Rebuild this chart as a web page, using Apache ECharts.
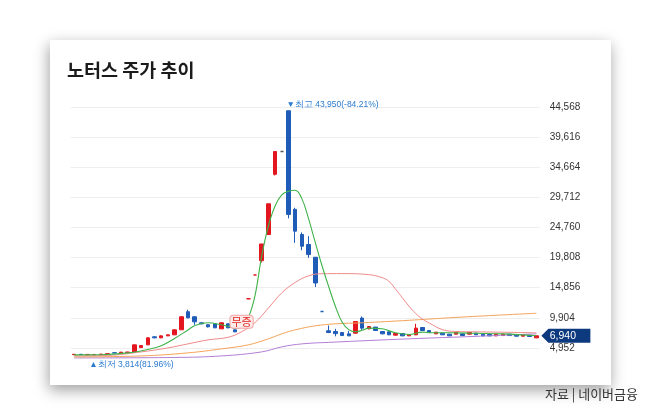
<!DOCTYPE html>
<html>
<head>
<meta charset="utf-8">
<script src="https://cdn.jsdelivr.net/npm/echarts@6/dist/echarts.min.js"></script>
<style>
html,body{margin:0;padding:0;background:#fff;}
#c{width:650px;height:414px;}
</style>
</head>
<body>
<div id="c"></div>
<script>
// ---------- data ----------
const days = ['1','2','3','4','5','6','7','8','9','10','11','12','13','14','15','16','17','18','19','20',
'21','22','23','24','25','26','27','28','29','30','31','32','33','34','35','36','37','38','39','40',
'41','42','43','44','45','46','47','48','49','50','51','52','53','54','55','56','57','58','59','60',
'61','62','63','64','65','66','67','68','69','70'];

const candleOpen = [3830,3900,3840,3830,3850,3900,4150,4150,4200,4290,5000,5450,6770,6600,6930,7100,7920,10900,10070,9080,
8750,8910,8090,8910,7920,'-',13040,16950,19300,23600,33500,37245,43950,27730,23600,21950,19860,10940,7760,7640,
7480,7260,7380,9850,8090,8370,7640,7590,7050,7310,6930,7100,8300,7800,7260,7380,7210,7210,7260,7210,
7380,7210,7150,6930,6980,7210,7100,6880,7050,6600];
const candleClose = [3900,3850,3880,3870,3930,4000,4100,4250,4270,5450,5330,6600,6600,6930,7100,7920,10070,9900,9240,8910,
8420,8250,9080,8250,7590,'-',13040,16950,22040,28650,37245,37245,26900,24150,21670,20300,15630,10940,7480,7300,
6980,6930,9290,8200,8470,7810,7260,7100,7310,6930,7150,8200,7810,7450,7540,7100,6930,7480,6980,7480,
7100,6930,6930,7210,7210,6980,6880,7100,6820,6940];
const candleLow = [3825,3830,3825,3814,3840,3880,4070,4120,4170,4250,4950,5400,6550,6550,6900,7050,7900,9800,8750,8850,
8300,8200,8050,8200,7550,'-',13040,16950,19000,23500,33300,37245,26250,22230,21010,19760,14970,10940,7380,6850,
6950,6900,7300,7920,8000,7780,7200,7050,7000,6900,6900,7050,7780,7400,7230,7070,6900,7180,6950,7180,
7070,6900,6900,6900,6950,6950,6850,6850,6790,6570];
const candleHigh = [3930,3920,3900,3890,3950,4030,4180,4280,4300,5500,5400,6700,6900,7000,7150,8000,10150,11230,10150,9150,
8850,8950,9150,8950,7950,'-',13040,16950,22040,28650,37245,37245,43950,28000,23940,23320,19860,10940,8630,8090,
7500,7760,9350,10120,8500,8400,7700,7650,7350,7350,7200,8910,8350,7850,7570,7400,7250,7500,7290,7510,
7400,7240,7180,7240,7240,7240,7130,7130,7080,6970];

// moving averages: [day index, value]
const ma5 = [[0,3800],[4,3830],[8,4130],[11,4700],[13,5300],[15,6500],[17,7900],[18,8600],[20,9080],[22,8750],[23,8500],
[24,8200],[25,8500],[26,9900],[27,13500],[28,20000],[29,25000],[30,28300],[31,30100],[32,30700],[33,30870],[34,29500],
[35,26200],[36,22300],[37,18500],[38,15050],[39,11800],[40,9200],[41,7950],[42,7600],[43,7850],[44,8200],[46,8090],
[48,7430],[50,7150],[52,7550],[54,7430],[56,7430],[60,7350],[64,7260],[69,6950]];
const ma20 = [[0,3630],[5,3710],[10,4290],[14,4950],[17,5610],[20,6270],[23,6700],[25,7600],[27,9100],[29,11500],
[31,14000],[33,15700],[35,16800],[37,17150],[40,17170],[44,17000],[46,16500],[47,15900],[48,14600],[49,13200],
[50,11800],[51,10600],[52,9700],[53,9050],[55,7950],[57,7650],[60,7590],[65,7510],[69,7430]];
const ma60 = [[0,3470],[10,3630],[17,4130],[22,4790],[26,5450],[29,6440],[31,7260],[33,7920],[36,8580],[39,8910],
[43,9080],[50,9490],[56,9900],[63,10320],[69,10650]];
const ma120 = [[0,3300],[15,3380],[22,3630],[28,4290],[31,5120],[34,5610],[38,5860],[50,6440],[60,6850],[69,7260]];

const yTicks = [0,4952,9904,14856,19808,24760,29712,34664,39616,44568];
const eventIndex = 25, eventValue = 9240, eventText = '무증';

// ---------- styles ----------
const RED = '#e3161f', BLUE = '#1f5cb8', GRAY = '#555555', NAVY = '#0d3a7e', LBLUE = '#2a7bd0';
const NARROW = "'Liberation Sans Narrow','Liberation Sans',Arial,sans-serif";

const candles = [];
let prevClose = null;
for (let i = 0; i < days.length; i++) {
  const o = candleOpen[i], c = candleClose[i], l = candleLow[i], h = candleHigh[i];
  if (o === '-') { candles.push(['-','-','-','-']); continue; }
  if (o === c) {
    const col = prevClose === null ? GRAY : (c > prevClose ? RED : (c < prevClose ? BLUE : GRAY));
    candles.push({value:[o,c,l,h], itemStyle:{color:col,color0:col,borderColor:col,borderColor0:col,borderColorDoji:col,borderWidth:1.6}});
  } else {
    candles.push([o,c,l,h]);
  }
  prevClose = c;
}

// extremes for annotations
let hiIdx = 0, loIdx = 0;
for (let i = 0; i < days.length; i++) {
  if (candleHigh[i] === '-') continue;
  if (candleHigh[i] > candleHigh[hiIdx]) hiIdx = i;
  if (candleLow[i] < candleLow[loIdx]) loIdx = i;
}
const lastIdx = days.length - 1;
const last = candleClose[lastIdx];
const hi = candleHigh[hiIdx], lo = candleLow[loIdx];
const fmt = v => v.toLocaleString('en-US');
const hiPct = ((last / hi - 1) * 100).toFixed(2);
const loPct = ((last / lo - 1) * 100).toFixed(2);

const chart = echarts.init(document.getElementById('c'), null, {renderer:'canvas'});
const gridLeft = 70.7, gridRight = 110.3, gridTop = 107, gridBottom = 36;

chart.setOption({
  animation: false,
  backgroundColor: '#ffffff',
  graphic: [
    {type:'rect', z:-10, shape:{x:50, y:40, width:561, height:345},
     style:{fill:'#ffffff', shadowBlur:14, shadowColor:'rgba(0,0,0,0.38)', shadowOffsetY:5, shadowOffsetX:-1}}
  ],
  title: [
    {text:'노터스 주가 추이', left:67, top:61, padding:0,
     textStyle:{fontSize:18.5, fontWeight:'bold', color:'#1b1b1b', fontFamily:"'Noto Sans CJK KR',sans-serif"}},
    {text:'자료 | 네이버금융', right:12, top:388, padding:0,
     textStyle:{fontSize:13, fontWeight:'normal', color:'#333', fontFamily:"'Noto Sans CJK KR',sans-serif"}}
  ],
  grid: {left:gridLeft, right:gridRight, top:gridTop, bottom:gridBottom},
  xAxis: {type:'category', data:days, show:false, boundaryGap:true},
  yAxis: {
    type:'value', position:'right',
    min:yTicks[0], max:yTicks[yTicks.length-1], interval:yTicks[1]-yTicks[0],
    axisLine:{show:false}, axisTick:{show:false},
    axisLabel:{margin:10, color:'#333', fontSize:10, fontFamily:NARROW,
      formatter: v => v === 0 ? '' : fmt(v)},
    splitLine:{show:true, lineStyle:{width:1, color: yTicks.map((t,i) => i === 0 ? 'rgba(0,0,0,0)' : '#eeeeee')}}
  },
  series: [
    {
      type:'candlestick', data:candles, barWidth:4,
      itemStyle:{color:RED, color0:BLUE, borderColor:RED, borderColor0:BLUE, borderColorDoji:GRAY, borderWidth:1},
      markPoint:{
        silent:true, animation:false, symbol:'circle', symbolSize:0,
        data:[
          {coord:[hiIdx, hi], label:{show:true, position:[-2,-11], color:LBLUE, fontSize:8.5, fontFamily:NARROW,
            formatter:'▼최고 ' + fmt(hi) + '(' + hiPct + '%)'}},
          {coord:[loIdx, lo], label:{show:true, position:[-5,5], color:LBLUE, fontSize:8.5, fontFamily:NARROW,
            formatter:'▲최저 ' + fmt(lo) + '(' + loPct + '%)'}},
          {coord:[eventIndex, eventValue], label:{show:true, position:'inside', color:'#e0261f', fontSize:11,
            fontFamily:"'Noto Sans CJK KR',sans-serif", backgroundColor:'#fdeaea', borderColor:'#f2a3a3', borderWidth:1,
            borderRadius:3, padding:[1,1,0,1], formatter:eventText}},
          {coord:[lastIdx, last], symbol:'path://M0,7L7,0L49,0L49,14L7,14Z', symbolSize:[49,14], symbolKeepAspect:false,
            symbolOffset:[29.5,0], itemStyle:{color:NAVY},
            label:{show:true, position:'inside', offset:[-3,0], color:'#fff', fontSize:10.5, fontFamily:NARROW, formatter:fmt(last)}}
        ]
      }
    },
    {type:'line', data:ma120, smooth:0.4, symbol:'none', lineStyle:{width:1, color:'#b27fd6'}, z:3},
    {type:'line', data:ma60, smooth:0.4, symbol:'none', lineStyle:{width:1, color:'#f6a45a'}, z:3},
    {type:'line', data:ma20, smooth:0.4, symbol:'none', lineStyle:{width:1, color:'#f08a8a'}, z:3},
    {type:'line', data:ma5, smooth:0.4, symbol:'none', lineStyle:{width:1.1, color:'#3fb34a'}, z:3}
  ]
});
</script>
</body>
</html>
